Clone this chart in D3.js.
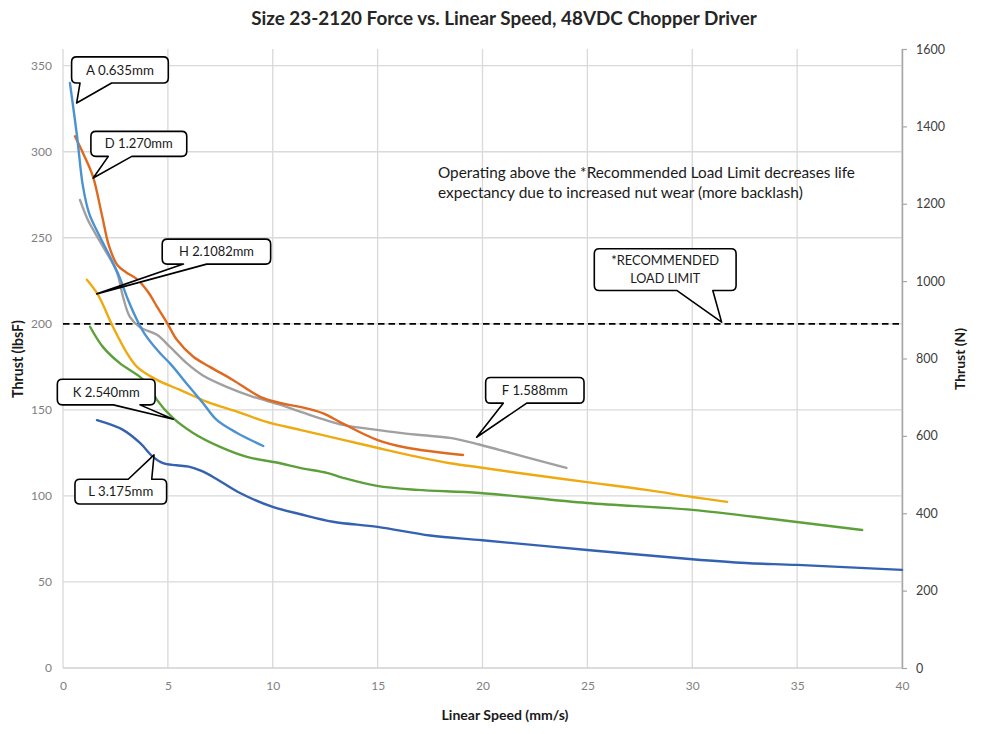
<!DOCTYPE html>
<html><head><meta charset="utf-8">
<script src="https://cdn.jsdelivr.net/npm/d3@7"></script>
<style>body{margin:0;background:#fff}svg{display:block}</style>
</head><body>
<script>
// ---- DATA ----
const title = "Size 23-2120 Force vs. Linear Speed, 48VDC Chopper Driver";
const xTicks = [0,5,10,15,20,25,30,35,40];
const yLeftTicks = [0,50,100,150,200,250,300,350];
const yRightTicks = [0,200,400,600,800,1000,1200,1400,1600];
const loadLimit = 200;

const seriesNames = ["A 0.635mm","D 1.270mm","F 1.588mm","H 2.1082mm","K 2.540mm","L 3.175mm"];
const seriesColors = ["#4C92D0","#DF6A1F","#A0A0A0","#EEAA10","#5DA03A","#3562B0"];

const speedA = [0.33,0.67,0.95,1.25,1.7,2.24,2.7,3.1,3.58,3.9,4.62,5.1,6.05,6.67,7.34,8.3,9.55];
const forceA = [340,309,280,264,252,239,227,214,201,194,183,177,163,154,144,136.6,129];

const speedD = [0.57,1.0,1.43,1.86,2.2,2.6,3.0,3.53,4.05,4.48,4.96,5.43,6.2,7.0,8.1,9.4,10.35,11.3,12.4,13.35,14.97,16.4,19.07];
const forceD = [309,298,285.5,263,245,234,230,226,218.6,210,200.6,190.7,181,175,167.4,157.6,154,151.7,148,142,132.6,128,123.8];

const speedF = [0.81,1.2,1.9,2.57,2.86,3.19,3.67,4.48,5.1,5.91,6.67,7.8,9.06,10.35,11.3,13.35,14.97,16.9,18.45,19.8,20.8,24.0];
const forceF = [272,260,245,230,215.7,204,198,193.6,186.6,177,170,163.4,157.6,153,149,141.3,138.4,135.5,133.7,130,126.7,116.3];

const speedH = [1.14,1.67,2.38,3.05,3.53,4.48,5.58,6.87,8.3,9.7,11.3,13.35,14.97,16.9,18.45,19.9,21.9,24.98,27.8,30.0,31.66];
const forceH = [225.6,216.8,198.3,183,175,167.4,161.6,154.7,149,143,138.4,132.6,128,122.7,119,116.5,113,108,103.5,99.4,96.5];

const speedK = [1.29,1.9,2.72,3.67,4.15,4.48,5.24,6.2,7.49,8.77,10.35,11.3,12.58,13.35,14.97,16.9,19.88,24.98,30.0,34.2,38.1];
const forceK = [198.3,186.6,177,169.2,163.4,155.8,145.3,136.6,128.5,122.7,119,116.3,113.4,110.5,105.8,103.5,101.7,95.9,91.9,86,80.2];

const speedL = [1.62,2.86,3.67,4.29,4.77,5.4,6.0,6.6,7.3,8.44,10.0,11.28,12.87,15,17.5,20,25,30,32.55,35,40];
const forceL = [144,138.4,130.8,122.7,119,117.8,117,114.5,110,101.7,93.6,89.5,85,82,77,74.2,68.6,63.2,61,59.9,57];

const speeds = [speedA,speedD,speedF,speedH,speedK,speedL];
const forces = [forceA,forceD,forceF,forceH,forceK,forceL];

// callouts in data units: box [x0,x1,yTop,yBottom], edge, base [xa,xb], tip [x,y]
const callouts = [
  {lines:["A 0.635mm"], box:[0.41,5.02,355.1,339.9], edge:"bottom", base:[0.81,2.32], tip:[0.65,328.3]},
  {lines:["D 1.270mm"], box:[1.33,5.9,311.8,297.3], edge:"bottom", base:[2.16,3.28], tip:[1.44,284.7]},
  {lines:["H 2.1082mm"], box:[4.73,9.9,249.2,234.7], edge:"bottom", base:[5.74,6.85], tip:[1.61,217.4]},
  {lines:["K 2.540mm"], box:[-0.27,4.39,167.8,152.9], edge:"bottom", base:[2.4,3.67], tip:[5.26,144.6]},
  {lines:["L 3.175mm"], box:[0.57,4.94,109.7,95.3], edge:"top", base:[3.11,4.23], tip:[4.34,123.8]},
  {lines:["F 1.588mm"], box:[20.15,24.84,168.8,153.9], edge:"bottom", base:[20.99,22.11], tip:[19.72,134.1]},
  {lines:["*RECOMMENDED","LOAD LIMIT"], box:[25.33,32.09,243.6,219.4], edge:"bottom", base:[29.26,30.98], tip:[31.4,201]}
];
const noteLines = ["Operating above the *Recommended Load Limit decreases life",
                   "expectancy due to increased nut wear (more backlash)"];

// ---- CHART ----
const W = 1000, H = 734;
const font = "Lato, 'Open Sans', sans-serif";
const svg = d3.select("body").append("svg").attr("width",W).attr("height",H)
  .style("font-family",font);

const x = d3.scaleLinear().domain([0,40]).range([63,902]);
const yL = d3.scaleLinear().domain([0,1600/4.44822]).range([668,49]);
const yR = d3.scaleLinear().domain([0,1600]).range([668,49]);

function fit(sel, target){
  const w = sel.node().getComputedTextLength();
  const fs = parseFloat(sel.attr("font-size"));
  if (w>0) sel.attr("font-size", (fs*target/w).toFixed(2));
  return sel;
}

// gridlines
const grid = svg.append("g");
grid.selectAll("line.v").data(xTicks).join("line")
  .attr("x1",d=>x(d)).attr("x2",d=>x(d)).attr("y1",yR(1600)).attr("y2",yL(0))
  .attr("stroke","#D9D9D9").attr("stroke-width",1.3);
grid.selectAll("line.h").data(yLeftTicks.filter(d=>d>0)).join("line")
  .attr("x1",x(0)).attr("x2",x(40)).attr("y1",d=>yL(d)).attr("y2",d=>yL(d))
  .attr("stroke","#D9D9D9").attr("stroke-width",1.3);
grid.append("line").attr("x1",x(0)).attr("x2",x(40)).attr("y1",yL(0)).attr("y2",yL(0))
  .attr("stroke","#D0D0D0").attr("stroke-width",1.5);

// left axis (labels only)
const gL = svg.append("g").attr("transform",`translate(${x(0)},0)`)
  .call(d3.axisLeft(yL).tickValues(yLeftTicks).tickSize(0).tickPadding(11).tickFormat(d3.format("d")));
gL.select(".domain").remove();
gL.selectAll("text").attr("font-size",12).attr("fill","#7F7F7F").style("font-family",font);

// bottom axis
const gB = svg.append("g").attr("transform",`translate(0,${yL(0)})`)
  .call(d3.axisBottom(x).tickValues(xTicks).tickSize(0).tickPadding(13).tickFormat(d3.format("d")));
gB.select(".domain").remove();
gB.selectAll("text").attr("font-size",12).attr("fill","#7F7F7F").style("font-family",font);

// right axis
const gR = svg.append("g").attr("transform",`translate(${x(40)},0)`)
  .call(d3.axisRight(yR).tickValues(yRightTicks).tickSize(5).tickPadding(9).tickSizeOuter(0).tickFormat(d3.format("d")));
gR.select(".domain").attr("stroke","#A6A6A6").attr("stroke-width",1.5);
gR.selectAll("line").attr("stroke","#A6A6A6").attr("stroke-width",1.2);
gR.selectAll("text").attr("font-size",12.5).attr("fill","#404040").style("font-family",font);

// load limit line
svg.append("line").attr("x1",x(0)).attr("x2",x(40)).attr("y1",yL(loadLimit)).attr("y2",yL(loadLimit))
  .attr("stroke","#000").attr("stroke-width",1.8).attr("stroke-dasharray","6.5,4");

// series
const line = d3.line().x(d=>x(d[0])).y(d=>yL(d[1])).curve(d3.curveCatmullRom.alpha(0.5));
const seriesData = seriesNames.map((n,i)=>({name:n,color:seriesColors[i],
  pts:speeds[i].map((s,j)=>[s,forces[i][j]])}));
const order = [5,4,3,2,1,0];
svg.append("g").selectAll("path").data(order.map(i=>seriesData[i])).join("path")
  .attr("d",d=>line(d.pts)).attr("fill","none").attr("stroke",d=>d.color)
  .attr("stroke-width",2.4).attr("stroke-linecap","round").attr("stroke-linejoin","round");

// callouts
function calloutPath(c){
  const x0=x(c.box[0]), x1=x(c.box[1]), y0=yL(c.box[2]), y1=yL(c.box[3]);
  const r=5, ba=x(c.base[0]), bb=x(c.base[1]), tx=x(c.tip[0]), ty=yL(c.tip[1]);
  let p = `M${x0+r},${y0}`;
  if (c.edge==="top") p += `H${ba}L${tx},${ty}L${bb},${y0}`;
  p += `H${x1-r}Q${x1},${y0} ${x1},${y0+r}V${y1-r}Q${x1},${y1} ${x1-r},${y1}`;
  if (c.edge==="bottom") p += `H${bb}L${tx},${ty}L${ba},${y1}`;
  p += `H${x0+r}Q${x0},${y1} ${x0},${y1-r}V${y0+r}Q${x0},${y0} ${x0+r},${y0}Z`;
  return p;
}
const cg = svg.append("g").selectAll("g").data(callouts).join("g");
cg.append("path").attr("d",calloutPath).attr("fill","#fff").attr("stroke","#000")
  .attr("stroke-width",1.6).attr("stroke-linejoin","round");
const calloutTargets = {"A 0.635mm":68,"D 1.270mm":68,"H 2.1082mm":75,"K 2.540mm":67,
  "L 3.175mm":65,"F 1.588mm":66,"*RECOMMENDED":108,"LOAD LIMIT":70};
cg.each(function(c){
  const g=d3.select(this);
  const cx=(x(c.box[0])+x(c.box[1]))/2, cy=(yL(c.box[2])+yL(c.box[3]))/2;
  const n=c.lines.length;
  c.lines.forEach((t,i)=>{
    const tt=g.append("text").attr("x",cx).attr("y",cy+(i-(n-1)/2)*18)
      .attr("dy","0.35em").attr("text-anchor","middle").attr("font-size",13)
      .attr("fill","#1a1a1a").text(t);
    fit(tt, calloutTargets[t]);
  });
});

// note
const noteW=[417,365];
noteLines.forEach((t,i)=>{
  const tt=svg.append("text").attr("x",438).attr("y",173+i*20).attr("dy","0.35em")
    .attr("font-size",14.5).attr("fill","#1a1a1a").text(t);
  fit(tt,noteW[i]);
});

// titles
fit(svg.append("text").attr("x",504).attr("y",18).attr("dy","0.35em").attr("text-anchor","middle")
  .attr("font-size",17).attr("font-weight","bold").attr("fill","#262626").text(title),506);
fit(svg.append("text").attr("x",505).attr("y",715).attr("dy","0.35em").attr("text-anchor","middle")
  .attr("font-size",13).attr("font-weight","bold").attr("fill","#1a1a1a").text("Linear Speed (mm/s)"),127);
fit(svg.append("text").attr("transform","translate(18,359) rotate(-90)").attr("dy","0.35em")
  .attr("text-anchor","middle").attr("font-size",13).attr("font-weight","bold").attr("fill","#1a1a1a")
  .text("Thrust (lbsF)"),78);
fit(svg.append("text").attr("transform","translate(960,359) rotate(-90)").attr("dy","0.35em")
  .attr("text-anchor","middle").attr("font-size",13).attr("font-weight","bold").attr("fill","#1a1a1a")
  .text("Thrust (N)"),62);
</script>
</body></html>
